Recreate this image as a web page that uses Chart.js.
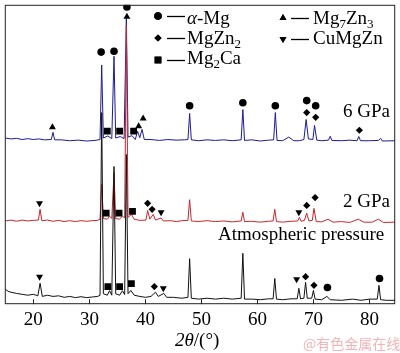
<!DOCTYPE html>
<html>
<head>
<meta charset="utf-8">
<script src="https://cdn.jsdelivr.net/npm/chart.js@4/dist/chart.umd.min.js"></script>
<style>
  body { margin: 0; background: #fff; }
  #wrap { position: relative; width: 400px; height: 353px; }
  .t { position: absolute; font-family: "Liberation Serif", serif; font-size: 19px; line-height: 19px; color: #000; white-space: nowrap; }
  .t sub { font-size: 13px; vertical-align: -4px; line-height: 0; }
  #wm { position: absolute; left: 303px; top: 336px; font-family: "Noto Sans CJK SC", sans-serif; font-size: 14px; line-height: 14px; color: #f2b4b4; white-space: nowrap; }
</style>
</head>
<body>
<div id="wrap">
  <canvas id="myChart" width="400" height="353"></canvas>
  <div class="t" style="left:187px;top:8px"><i>α</i>-Mg</div>
  <div class="t" style="left:187px;top:28px">MgZn<sub>2</sub></div>
  <div class="t" style="left:187px;top:48px">Mg<sub>2</sub>Ca</div>
  <div class="t" style="left:313px;top:8px">Mg<sub>7</sub>Zn<sub>3</sub></div>
  <div class="t" style="left:313px;top:28px">CuMgZn</div>
  <div class="t" style="left:343px;top:101px">6 GPa</div>
  <div class="t" style="left:343px;top:191px">2 GPa</div>
  <div class="t" style="left:218px;top:224px">Atmospheric pressure</div>
  <div class="t" style="left:175px;top:330px"><i>2θ</i>/(°)</div>
  <div id="wm">@有色金属在线</div>
</div>
<script>
// x ticks (2theta, degrees)
const xTicks = [20, 30, 40, 50, 60, 70, 80]

// traces: [2theta, intensity (a.u., offset stacked)]
const blackTrace = [
  [15, 5.0], [15.5, 4.3], [16, 4.0], [17, 3.6], [18, 3.3], [19, 3.0], [20, 3.3], [20.8, 2.8], [21.2, 7.0], [21.6, 2.6],
  [22.5, 3.0], [23.5, 2.6], [24.5, 2.8], [25.5, 2.3], [26.5, 2.6], [27.5, 2.2], [28.5, 2.5], [29.5, 2.2], [30.5, 2.4], [31.5, 2.6],
  [31.9, 3.0], [32.2, 64], [32.5, 3.5], [33.2, 3.0], [33.6, 4.5], [34.0, 3.0], [34.4, 46], [34.7, 3.5], [35.4, 3.0], [35.9, 4.5],
  [36.3, 3.2], [36.6, 50], [36.9, 3.5], [37.4, 4.6], [38.0, 3.0], [39, 2.6], [40, 2.3], [41, 2.6], [41.8, 4.0], [42.3, 2.6],
  [43.3, 3.6], [43.8, 2.3], [45, 2.3], [46.5, 2.0], [47.6, 2.3], [47.9, 15.2], [48.2, 2.0], [49.5, 1.7], [51, 2.0], [52.5, 1.7],
  [54, 2.0], [55.5, 1.7], [57.1, 2.0], [57.4, 17], [57.7, 1.7], [59, 1.7], [60.5, 1.5], [62, 1.8], [62.8, 1.8], [63.1, 8.6],
  [63.4, 1.7], [64.5, 1.5], [66, 1.8], [67.1, 1.8], [67.4, 5.3], [67.7, 1.8], [68.3, 2.0], [68.6, 7.3], [68.9, 2.0], [69.7, 2.0],
  [70.0, 4.6], [70.3, 1.7], [71.5, 1.5], [72.4, 2.6], [73, 1.5], [75, 1.3], [77, 1.7], [78.5, 1.3], [80, 1.7], [81.4, 1.7],
  [81.7, 6.3], [82.0, 1.5], [83, 1.3], [84.6, 1.3]
]
const redTrace = [
  [15, 27.8], [16, 28.1], [17, 27.7], [18, 28.1], [19, 27.8], [20, 28.0], [20.9, 28.1], [21.2, 31.7], [21.5, 27.9], [22.5, 28.1],
  [23.5, 27.7], [24.5, 28.0], [25.5, 27.6], [26.5, 27.9], [27.5, 27.6], [28.5, 27.9], [29.5, 27.7], [30.5, 27.9], [31.5, 28.0], [31.9, 28.4],
  [32.2, 40], [32.5, 28.6], [33.2, 28.4], [33.6, 29.4], [34.0, 28.6], [34.4, 44], [34.7, 28.6], [35.4, 28.4], [35.9, 29.4], [36.3, 28.8],
  [36.6, 93], [36.9, 29], [37.5, 30], [38.0, 28.4], [39, 28.0], [40.1, 28.1], [40.4, 31.3], [40.8, 28.4], [41.4, 30.0], [41.8, 28.1],
  [42.8, 28.8], [43.2, 27.8], [44.5, 27.9], [45.5, 27.6], [46.5, 27.9], [47.6, 28.0], [47.9, 34.9], [48.2, 27.8], [49.5, 27.6], [51, 27.9],
  [52.5, 27.6], [54, 27.8], [55.5, 27.5], [57.1, 27.8], [57.4, 30.7], [57.7, 27.6], [59, 27.7], [60.5, 27.4], [62, 27.7], [62.8, 27.8],
  [63.1, 31.7], [63.4, 27.6], [64.5, 27.4], [66, 27.7], [67.2, 27.8], [67.5, 29.0], [67.8, 27.7], [68.4, 28.0], [68.8, 30.4], [69.2, 27.8],
  [69.8, 28.0], [70.1, 32.0], [70.5, 27.6], [71.5, 27.5], [72.6, 28.4], [73.5, 27.4], [75, 27.6], [76.5, 27.3], [78.0, 28.4], [79, 27.4],
  [80.5, 27.4], [81.6, 28.4], [82.5, 27.3], [84.6, 27.4]
]
const blueTrace = [
  [15, 55.5], [16, 55.2], [17, 55.4], [18, 55.0], [19, 55.3], [20, 55.0], [21, 55.2], [22, 54.9], [23.2, 55.0], [23.5, 57.4],
  [23.8, 54.9], [25, 54.9], [26.5, 54.6], [28, 54.8], [29.5, 54.5], [31, 54.7], [31.9, 55.0], [32.2, 79.9], [32.5, 55.5], [33.3, 56.2],
  [34.0, 55.3], [34.4, 82.8], [34.7, 55.5], [35.5, 56.0], [36.2, 55.3], [36.6, 95.4], [36.9, 55.8], [37.6, 56.3], [38.2, 55.0], [38.6, 57.8],
  [39.0, 55.6], [39.4, 58.4], [39.8, 55.0], [41, 55.0], [42.5, 54.7], [44, 55.0], [45.5, 54.8], [47, 54.9], [47.6, 55.0], [47.9, 63.7],
  [48.2, 54.9], [49.5, 54.6], [51, 54.9], [52.5, 54.7], [54, 54.9], [55.5, 54.6], [57.1, 54.9], [57.4, 65.0], [57.7, 54.7], [59, 54.9],
  [60.5, 54.5], [62, 54.8], [62.9, 54.9], [63.2, 64.0], [63.5, 54.7], [64.5, 54.6], [65.6, 55.8], [66.5, 54.6], [67.5, 54.6], [68.3, 55.0],
  [68.7, 61.7], [69.1, 55.2], [69.9, 55.0], [70.2, 59.7], [70.6, 54.8], [71.5, 54.6], [72.7, 54.8], [73.0, 56.1], [73.3, 54.7], [75, 54.6],
  [76.5, 54.8], [77.8, 54.6], [78.1, 56.0], [78.4, 54.6], [80, 54.6], [81.6, 54.7], [82.0, 55.4], [82.3, 54.5], [84.6, 54.6]
]

// phase markers [2theta, intensity]
const alphaMg = [[32.1, 84.2], [34.4, 84.5], [36.7, 99.3], [47.9, 66.3], [57.4, 67.3], [63.2, 66.3], [68.8, 68.0], [70.4, 66.3], [72.5, 5.6], [81.8, 8.6]]
const mgZn2 = [[68.8, 64.0], [70.4, 62.4], [78.2, 58.1], [40.4, 33.7], [41.2, 31.7], [68.8, 33.0], [70.3, 35.6], [41.6, 5.9], [68.6, 9.2], [70.1, 6.3]]
const mg2Ca = [[33.2, 57.8], [35.4, 57.8], [37.9, 57.8], [33.0, 30.4], [35.3, 30.4], [37.7, 31.0], [33.3, 5.9], [35.4, 5.9], [37.5, 6.9]]
const mg7Zn3 = [[23.4, 59.1], [36.7, 96.0], [38.8, 59.4], [39.6, 62.0]]
const cuMgZn = [[21.1, 33.7], [42.8, 30.7], [67.4, 30.7], [21.1, 9.2], [43.2, 5.3], [67.0, 8.3]]

function pts(arr) {
  return arr.map(p => ({ x: p[0], y: p[1] }))
}

function trace(d, color, order) {
  return { data: pts(d), showLine: true, borderColor: color, backgroundColor: color, borderWidth: 1, pointRadius: 0, tension: 0, order: order }
}

function marks(d, style, r, rot) {
  return { data: pts(d), showLine: false, pointStyle: style, pointRadius: r, rotation: rot || 0, backgroundColor: '#000', borderColor: '#000', borderWidth: 0, order: 0 }
}

// frame, inward ticks and legend symbols
const decor = {
  id: 'decor',
  afterDraw(chart) {
    const ctx = chart.ctx
    const a = chart.chartArea
    const xs = chart.scales.x
    ctx.save()
    ctx.strokeStyle = '#222'
    ctx.lineWidth = 1
    ctx.strokeRect(a.left + 0.5, a.top + 0.5, a.right - a.left - 1, a.bottom - a.top - 1)
    ctx.beginPath()
    xTicks.forEach(v => {
      const px = Math.round(xs.getPixelForValue(v)) + 0.5
      ctx.moveTo(px, a.bottom)
      ctx.lineTo(px, a.bottom - 5)
    })
    ctx.stroke()
    // legend symbols + dashes
    const items = [
      ['circle', 3.8, 0, 158, 16, 167],
      ['rectRot', 3.6, 0, 158, 38, 167],
      ['rect', 4.8, 0, 158, 60, 167],
      ['triangle', 4, 0, 283, 18, 291],
      ['triangle', 4, 180, 283, 39, 291]
    ]
    ctx.fillStyle = '#000'
    ctx.strokeStyle = '#000'
    items.forEach(it => {
      Chart.helpers.drawPoint(ctx, { pointStyle: it[0], radius: it[1], rotation: it[2], borderWidth: 0 }, it[3], it[4])
      ctx.fill()
      ctx.beginPath()
      ctx.lineWidth = 1.3
      ctx.moveTo(it[5], it[4] + 0.5)
      ctx.lineTo(it[5] + 18, it[4] + 0.5)
      ctx.stroke()
    })
    ctx.restore()
  }
}

Chart.defaults.font.family = '"Liberation Serif", serif'

const config = {
  type: 'scatter',
  data: {
    datasets: [
      marks(alphaMg, 'circle', 3.8),
      marks(mgZn2, 'rectRot', 3.6),
      marks(mg2Ca, 'rect', 4.8),
      marks(mg7Zn3, 'triangle', 4),
      marks(cuMgZn, 'triangle', 4, 180),
      trace(blackTrace, '#111111', 1),
      trace(redTrace, '#c8262e', 2),
      trace(blueTrace, '#1c1c96', 3)
    ]
  },
  options: {
    responsive: false,
    animation: false,
    devicePixelRatio: 1,
    layout: { padding: { left: 1, right: 2, top: 0, bottom: 18 } },
    plugins: { legend: { display: false }, tooltip: { enabled: false } },
    scales: {
      x: {
        type: 'linear',
        min: 14.9,
        max: 84.6,
        afterBuildTicks: s => { s.ticks = xTicks.map(v => ({ value: v })) },
        grid: { display: false, drawTicks: false },
        border: { display: false },
        ticks: { color: '#000', font: { size: 19 }, padding: 4, maxRotation: 0 }
      },
      y: { display: false, min: 0, max: 100 }
    }
  },
  plugins: [decor]
}

const myChart = new Chart(document.getElementById('myChart'), config)
</script>
</body>
</html>
